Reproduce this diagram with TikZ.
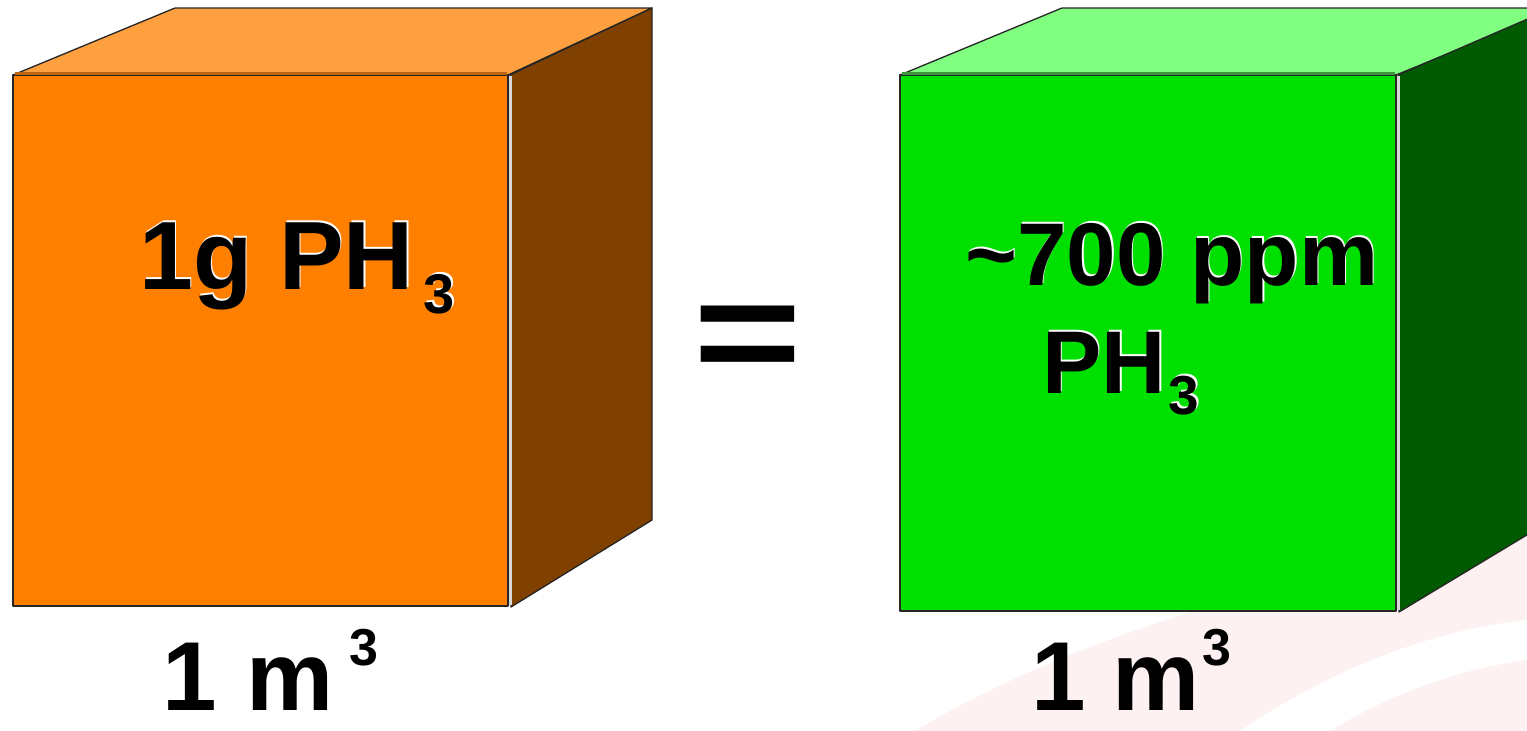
\documentclass[tikz,border=0pt]{standalone}
\usepackage{fontspec}
\setmainfont{Liberation Sans}
\begin{document}
\begin{tikzpicture}[x=1pt,y=-1pt,
  edge/.style={draw=black!85,line width=1.3pt,line join=round},
  seam/.style={draw=white!85!black,line width=2.2pt},
  lbl/.style={inner sep=0pt,anchor=base west,font=\bfseries\fontsize{97}{100}\selectfont},
  lblg/.style={inner sep=0pt,anchor=base west,font=\bfseries\fontsize{89}{95}\selectfont},
  ulbl/.style={inner sep=0pt,anchor=base west,font=\bfseries\fontsize{98}{100}\selectfont}
]
\definecolor{orfront}{RGB}{255,128,0}
\definecolor{ortop}{RGB}{255,160,64}
\definecolor{orside}{RGB}{128,64,0}
\definecolor{ortopedge}{RGB}{190,100,20}
\definecolor{grfront}{RGB}{0,224,0}
\definecolor{grtop}{RGB}{128,255,128}
\definecolor{grside}{RGB}{0,90,0}
\definecolor{grtopedge}{RGB}{60,150,60}
\definecolor{wmark}{RGB}{253,241,241}
\useasboundingbox (0,0) rectangle (1527,731);
\clip (0,0) rectangle (1527,731);
\fill[white] (0,0) rectangle (1527,731);
% faint watermark
\fill[wmark] (915,731) .. controls (1050,650) and (1250,580) .. (1527,535) -- (1527,731) -- cycle;
\fill[white] (1240,731) .. controls (1330,670) and (1430,630) .. (1527,620) -- (1527,660) .. controls (1450,670) and (1380,700) .. (1330,731) -- cycle;
% orange cube
\path[edge,fill=ortop] (13,75) -- (175,8) -- (652,8) -- (508,75) -- cycle;
\path[edge,fill=orside] (510,75) -- (652,8) -- (652,520) -- (511,607) -- cycle;
\path[edge,fill=orfront] (13,75) rectangle (508,606);
\draw[ortopedge,line width=2.5pt] (15,73.5) -- (507,73.5);
\draw[seam] (510.5,76) -- (510.5,605);
% green cube
\path[edge,fill=grtop] (900,75) -- (1062,8) -- (1560,8) -- (1396,75) -- cycle;
\path[edge,fill=grside] (1398,75) -- (1560,5) -- (1560,515) -- (1399,612) -- cycle;
\path[edge,fill=grfront] (900,75) rectangle (1396,611);
\draw[grtopedge,line width=2.5pt] (902,73.5) -- (1395,73.5);
\draw[seam] (1398.5,76) -- (1398.5,610);
% texts with shadow
\newcommand{\shtext}[4]{%
  \node[#1,text=white] at ([xshift=1.6pt,yshift=1.6pt]#2) {#4};
  \node[#1] (#3) at (#2) {#4};}
\shtext{lbl}{139,289}{t1}{1g PH\hspace{0.1em}\raisebox{-24pt}{\fontsize{56}{60}\selectfont 3}}
\shtext{lblg}{965,285}{t2}{\char`\~700 ppm}
\shtext{lblg}{1042,393}{t3}{PH\hspace{0.03em}\raisebox{-21pt}{\fontsize{55}{60}\selectfont 3}}
\node[inner sep=0pt,anchor=base,font=\bfseries\fontsize{149}{150}\selectfont] (eq) at (748,383) {\scalebox{1.25}[1]{=}};
\node[ulbl] (u1) at (162,710) {1\hspace{0.3em}m\hspace{0.17em}\raisebox{45pt}{\fontsize{52}{60}\selectfont 3}};
\node[ulbl] (u2) at (1031,710) {1\hspace{0.27em}m\hspace{0.03em}\raisebox{45pt}{\fontsize{52}{60}\selectfont 3}};
\end{tikzpicture}
\end{document}
